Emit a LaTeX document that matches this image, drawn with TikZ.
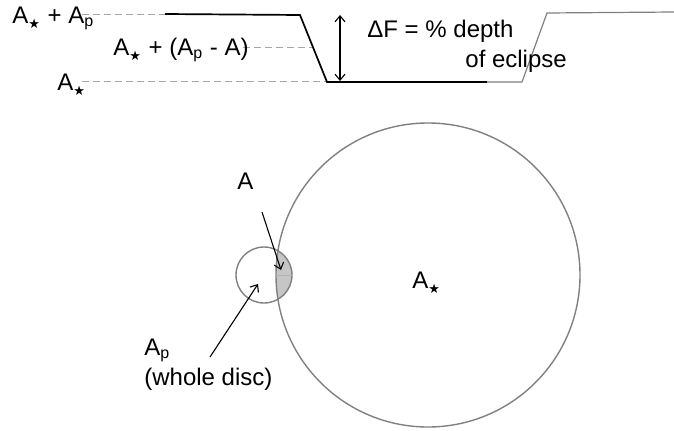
\documentclass[tikz,border=0pt]{standalone}
\usepackage{fontspec}
\setmainfont{Liberation Sans}
\newfontfamily\starfont{DejaVu Sans}
\usetikzlibrary{arrows.meta}
\newcommand{\Astar}{A\textsubscript{\raisebox{-1pt}{\starfont\fontsize{6.5}{7}\selectfont ★}}}
\newcommand{\Aplan}{A\textsubscript{p}}

\begin{document}
\begin{tikzpicture}[x=0.5pt,y=0.5pt,
  every node/.style={font=\fontsize{12}{14}\selectfont, inner sep=0pt},
  level/.style={gray!70, line width=0.5pt, dash pattern=on 3.5pt off 2pt},
  disc/.style={gray, line width=0.7pt},
  pointer/.style={->, line width=0.55pt},
  >={Straight Barb[length=3pt,width=5pt]}]
  \useasboundingbox (0,0) rectangle (674,430);
  % flux levels
  \draw[level] (82,416) -- (165,416);
  \draw[level] (243,383) -- (312,383);
  \draw[level] (82,349) -- (327,349);
  \node[anchor=base west] (topLvl) at (12,407) {\Astar{} + \Aplan};
  \node[anchor=base west] (midLvl) at (113,375) {\Astar{} + (\Aplan{} - A)};
  \node[anchor=base west] (botLvl) at (57,340) {\Astar};
  % light curve
  \draw[line width=0.85pt] (165,416) -- (300,415) -- (327,348) -- (487,348);
  \draw[gray, line width=0.6pt] (487,348) -- (522,348) -- (547,417) -- (674,418);
  % depth of eclipse
  \coordinate (dTop) at (340,415);
  \coordinate (dBot) at (340,349);
  \draw[<->, line width=0.55pt] (dTop) -- (dBot);
  \node[anchor=base west] (depth) at (367,393) {ΔF = \% depth};
  \node[anchor=base west] (eclipse) at (465,363) {of eclipse};
  % star and planet discs
  \coordinate (star) at (428,155);
  \coordinate (planet) at (264,155);
  \begin{scope}
    \clip (planet) circle[radius=28];
    \fill[gray!45] (star) circle[radius=152];
  \end{scope}
  \draw[disc] (star) circle[radius=152];
  \draw[disc] (planet) circle[radius=28];
  \draw[gray!60, line width=0.3pt] (276,155) -- (292,155);
  \node[anchor=base west] (starLbl) at (412,142) {\Astar};
  % labels with pointers
  \node[anchor=base] (lensLbl) at (245.5,241) {A};
  \node[anchor=base west] (planetLbl) at (144,75) {\Aplan};
  \node[anchor=base west] (wholeLbl) at (144,45) {(whole disc)};
  \coordinate (lensFrom) at (262,218);
  \coordinate (lensTo) at (281,160);
  \coordinate (planetFrom) at (210,73);
  \coordinate (planetTo) at (258,146);
  \draw[pointer] (lensFrom) -- (lensTo);
  \draw[pointer] (planetFrom) -- (planetTo);
\end{tikzpicture}
\end{document}
